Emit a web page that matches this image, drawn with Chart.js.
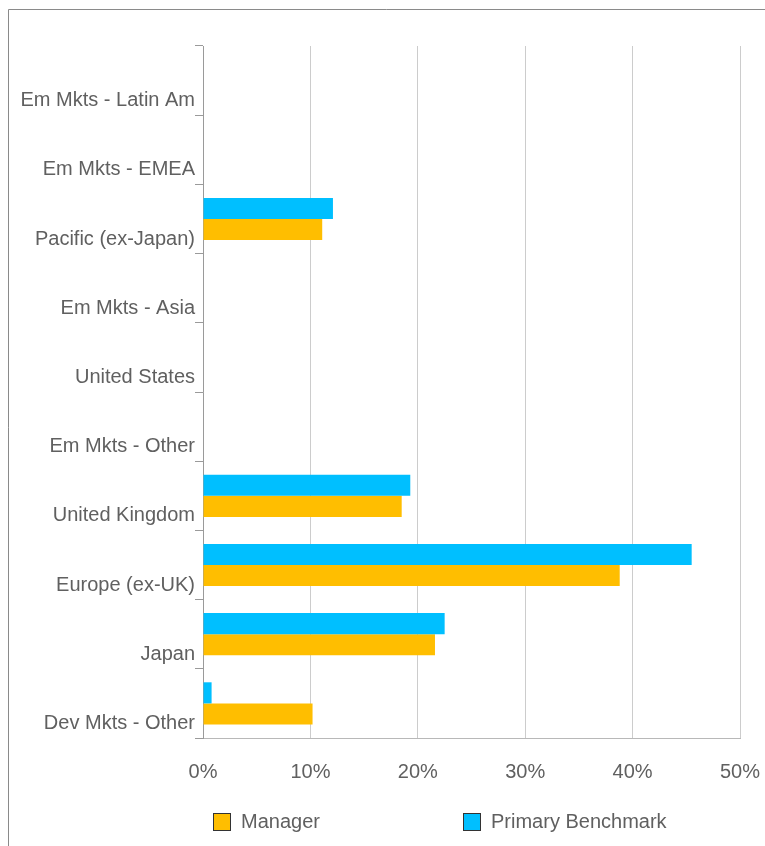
<!DOCTYPE html>
<html>
<head>
<meta charset="utf-8">
<title>Regional allocation</title>
<script src="https://cdn.jsdelivr.net/npm/chart.js@4/dist/chart.umd.min.js"></script>
<style>
  html, body { margin: 0; padding: 0; background: #fff; }
  #wrap { position: relative; width: 765px; height: 846px; }
</style>
</head>
<body>
<div id="wrap"><canvas id="chart"></canvas></div>
<script>
// Regions, listed top to bottom
const categories = [
  'Em Mkts - Latin Am',
  'Em Mkts - EMEA',
  'Pacific (ex-Japan)',
  'Em Mkts - Asia',
  'United States',
  'Em Mkts - Other',
  'United Kingdom',
  'Europe (ex-UK)',
  'Japan',
  'Dev Mkts - Other'
];

// Weights in percent
const managerValues   = [0, 0, 11.1, 0, 0, 0, 18.5, 38.8, 21.6, 10.2];
const benchmarkValues = [0, 0, 12.1, 0, 0, 0, 19.3, 45.5, 22.5, 0.8];

const seriesNames = ['Manager', 'Primary Benchmark'];
const xTicks = [0, 10, 20, 30, 40, 50];

const TEXT = '#606060';
const FONT = { family: '"Liberation Sans", Arial, sans-serif', size: 20 };

// Thin grey frame along the top and left edges
const framePlugin = {
  id: 'frame',
  beforeDraw(chart) {
    const ctx = chart.ctx;
    ctx.save();
    ctx.strokeStyle = '#8a8a8a';
    ctx.lineWidth = 1;
    ctx.beginPath();
    ctx.moveTo(8.5, chart.height);
    ctx.lineTo(8.5, 9.5);
    ctx.lineTo(chart.width, 9.5);
    ctx.stroke();
    ctx.restore();
  }
};

// Widely spaced legend under the axis, Manager first
const legendPlugin = {
  id: 'spacedLegend',
  afterDraw(chart) {
    const ctx = chart.ctx;
    const area = chart.chartArea;
    const order = [1, 0];
    const y = 822;
    ctx.save();
    ctx.font = FONT.size + 'px ' + FONT.family;
    ctx.textBaseline = 'middle';
    ctx.textAlign = 'left';
    order.forEach((dsIndex, i) => {
      const ds = chart.data.datasets[dsIndex];
      const x = area.left + 10 + i * 250;
      ctx.fillStyle = ds.backgroundColor;
      ctx.fillRect(x, y - 9, 18, 18);
      ctx.strokeStyle = '#333';
      ctx.lineWidth = 1;
      ctx.strokeRect(x + 0.5, y - 8.5, 17, 17);
      ctx.fillStyle = TEXT;
      ctx.fillText(ds.label, x + 28, y);
    });
    ctx.restore();
  }
};

new Chart(document.getElementById('chart'), {
  type: 'bar',
  data: {
    labels: categories,
    datasets: [
      {
        label: seriesNames[1],
        data: benchmarkValues,
        backgroundColor: '#00BFFF',
        borderWidth: 0,
        barPercentage: 1,
        categoryPercentage: 0.61
      },
      {
        label: seriesNames[0],
        data: managerValues,
        backgroundColor: '#FFBE00',
        borderWidth: 0,
        barPercentage: 1,
        categoryPercentage: 0.61
      }
    ]
  },
  options: {
    indexAxis: 'y',
    responsive: true,
    maintainAspectRatio: false,
    animation: false,
    layout: { padding: { top: 46, left: 20, right: 25, bottom: 40 } },
    plugins: {
      legend: { display: false },
      tooltip: { enabled: false }
    },
    scales: {
      x: {
        min: 0,
        max: 50,
        afterBuildTicks(scale) { scale.ticks = xTicks.map(v => ({ value: v })); },
        afterFit(scale) { scale.paddingLeft = 0; scale.paddingRight = 0; },
        grid: { color: '#cccccc', lineWidth: 1, drawTicks: false },
        border: { color: '#b8b8b8', width: 1 },
        ticks: {
          padding: 22,
          color: TEXT,
          font: FONT,
          maxRotation: 0,
          callback: v => v + '%'
        }
      },
      y: {
        afterFit(scale) { scale.width = 183; scale.paddingTop = 0; scale.paddingBottom = 0; },
        grid: {
          offset: true,
          drawOnChartArea: false,
          drawTicks: true,
          tickLength: 8,
          color: '#9a9a9a'
        },
        border: { color: '#9a9a9a', width: 1 },
        ticks: {
          padding: 0,
          labelOffset: 20,
          color: TEXT,
          font: FONT,
          autoSkip: false
        }
      }
    }
  },
  plugins: [framePlugin, legendPlugin]
});
</script>
</body>
</html>
